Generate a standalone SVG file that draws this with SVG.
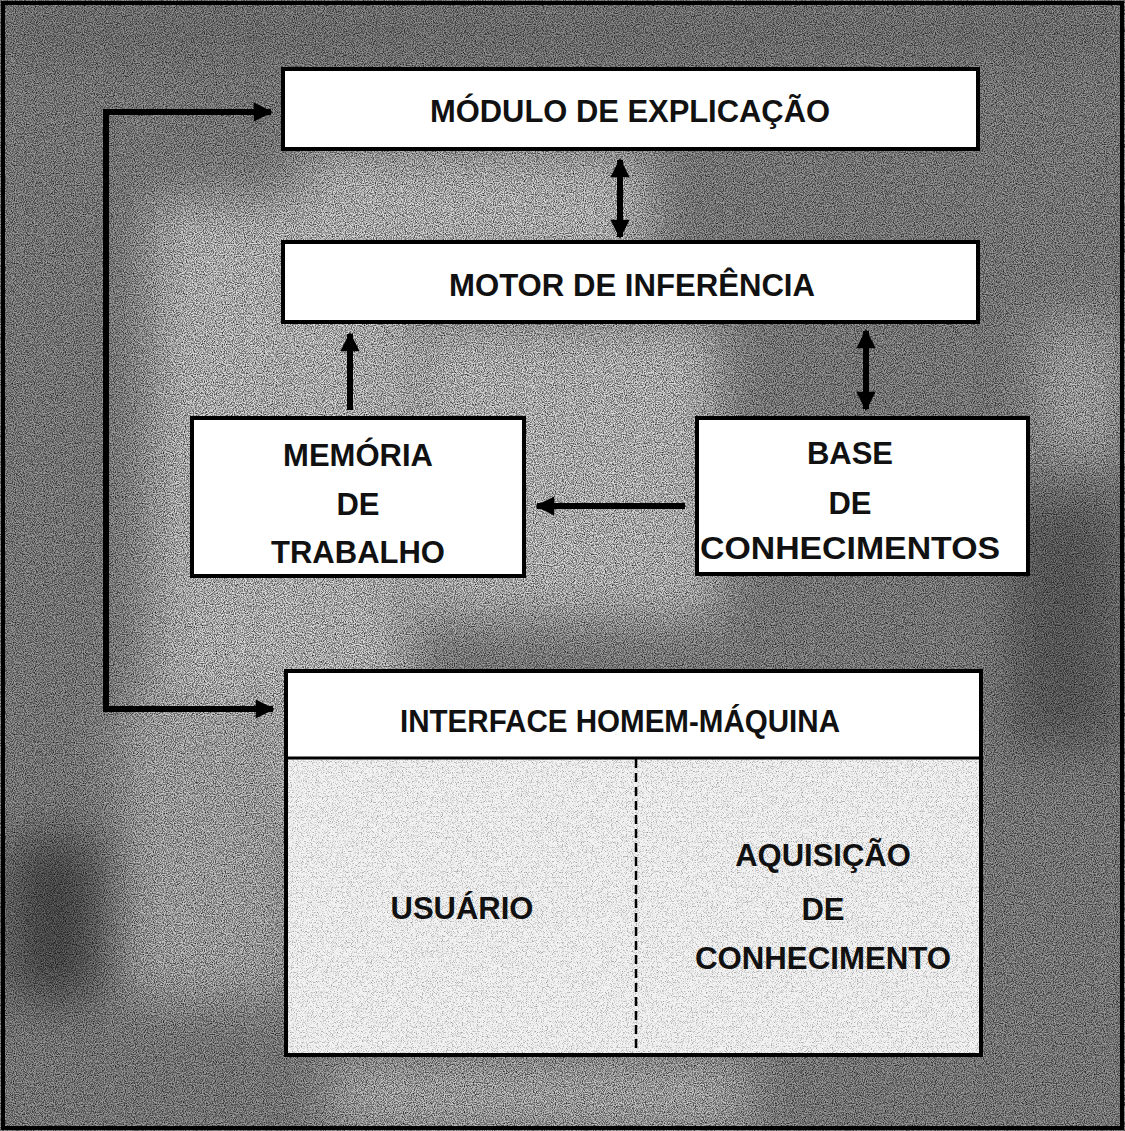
<svg xmlns="http://www.w3.org/2000/svg" width="1125" height="1131" viewBox="0 0 1125 1131">
<style>
.box{fill:#fff;stroke:#000;stroke-width:4}
.t{font-family:"Liberation Sans",Arial,sans-serif;font-weight:bold;font-size:31px;fill:#111;text-anchor:middle}
.c{stroke:#000;stroke-width:6;fill:none}
</style>
<defs>
<filter id="noise" x="0" y="0" width="100%" height="100%">
<feTurbulence type="fractalNoise" baseFrequency="0.9" numOctaves="2" seed="3" result="n"/>
<feColorMatrix type="matrix" values="0 0 0 0 0  0 0 0 0 0  0 0 0 0 0  0 0 0 1.6 -0.55"/>
</filter>
<filter id="blur"><feGaussianBlur stdDeviation="25"/></filter>
<filter id="speck" x="0" y="0" width="100%" height="100%">
<feTurbulence type="fractalNoise" baseFrequency="1.2" numOctaves="1" seed="7"/>
<feColorMatrix type="matrix" values="0 0 0 0 0  0 0 0 0 0  0 0 0 0 0  0 0 0 1.2 -0.6"/>
</filter>
<marker id="ah" viewBox="0 0 10 10" refX="9" refY="5" markerWidth="4.5" markerHeight="3.2" orient="auto-start-reverse" markerUnits="strokeWidth">
<path d="M0,0 L10,5 L0,10 z" fill="#000"/>
</marker>
</defs>
<g id="background">
<rect x="0" y="0" width="1125" height="1131" fill="#989898"/>
<g filter="url(#blur)" fill="#dcdcdc">
<rect x="150" y="200" width="260" height="620"/>
<rect x="300" y="150" width="350" height="120"/>
<rect x="420" y="320" width="300" height="300"/>
<rect x="120" y="700" width="180" height="300" fill="#c8c8c8"/>
<rect x="330" y="1060" width="420" height="70" fill="#d0d0d0"/>
<rect x="1040" y="320" width="80" height="140" fill="#c8c8c8"/>
</g>
<g filter="url(#blur)" fill="#5a5a5a">
<rect x="10" y="840" width="90" height="160"/>
<rect x="1010" y="500" width="110" height="250" fill="#707070"/>
<rect x="0" y="0" width="1125" height="60" fill="#8a8a8a"/>
</g>
<rect x="0" y="0" width="1125" height="1131" filter="url(#noise)"/>
<rect x="3" y="3" width="1119" height="1125" fill="none" stroke="#000" stroke-width="4"/>
</g>
<g id="connectors">
<path class="c" d="M271,112 L106,112 L106,709 L273,709" marker-start="url(#ah)" marker-end="url(#ah)"/>
<line class="c" x1="620" y1="160" x2="620" y2="237" marker-start="url(#ah)" marker-end="url(#ah)"/>
<line class="c" x1="350" y1="410" x2="350" y2="334" marker-end="url(#ah)"/>
<line class="c" x1="866" y1="331" x2="866" y2="409" marker-start="url(#ah)" marker-end="url(#ah)"/>
<line class="c" x1="685" y1="506" x2="537" y2="506" marker-end="url(#ah)"/>
</g>
<g id="modulo-explicacao">
<rect class="box" x="283" y="69" width="695" height="80"/>
<text class="t" x="630" y="122" textLength="400" lengthAdjust="spacingAndGlyphs">MÓDULO DE EXPLICAÇÃO</text>
</g>
<g id="motor-inferencia">
<rect class="box" x="283" y="242" width="695" height="80"/>
<text class="t" x="632" y="296" textLength="366" lengthAdjust="spacingAndGlyphs">MOTOR DE INFERÊNCIA</text>
</g>
<g id="memoria-trabalho">
<rect class="box" x="192" y="418" width="332" height="158"/>
<text class="t" x="358" y="466">MEMÓRIA</text>
<text class="t" x="358" y="515">DE</text>
<text class="t" x="358" y="563">TRABALHO</text>
</g>
<g id="base-conhecimentos">
<rect class="box" x="697" y="418" width="331" height="156"/>
<text class="t" x="850" y="464">BASE</text>
<text class="t" x="850" y="514">DE</text>
<text class="t" x="850" y="559" textLength="300" lengthAdjust="spacingAndGlyphs">CONHECIMENTOS</text>
</g>
<g id="interface">
<rect x="286" y="671" width="695" height="384" fill="#f2f2f2" stroke="#000" stroke-width="4"/>
<rect x="288" y="759" width="691" height="294" filter="url(#speck)"/>
<rect x="288" y="673" width="691" height="84" fill="#fff"/>
<line x1="286" y1="758" x2="981" y2="758" stroke="#000" stroke-width="3"/>
<line x1="636" y1="759" x2="636" y2="1053" stroke="#000" stroke-width="2.5" stroke-dasharray="9,5"/>
<text class="t" x="620" y="732" textLength="440" lengthAdjust="spacingAndGlyphs">INTERFACE HOMEM-MÁQUINA</text>
<text class="t" x="462" y="919">USUÁRIO</text>
<text class="t" x="823" y="866">AQUISIÇÃO</text>
<text class="t" x="823" y="920">DE</text>
<text class="t" x="823" y="969" textLength="256" lengthAdjust="spacingAndGlyphs">CONHECIMENTO</text>
</g>
</svg>
